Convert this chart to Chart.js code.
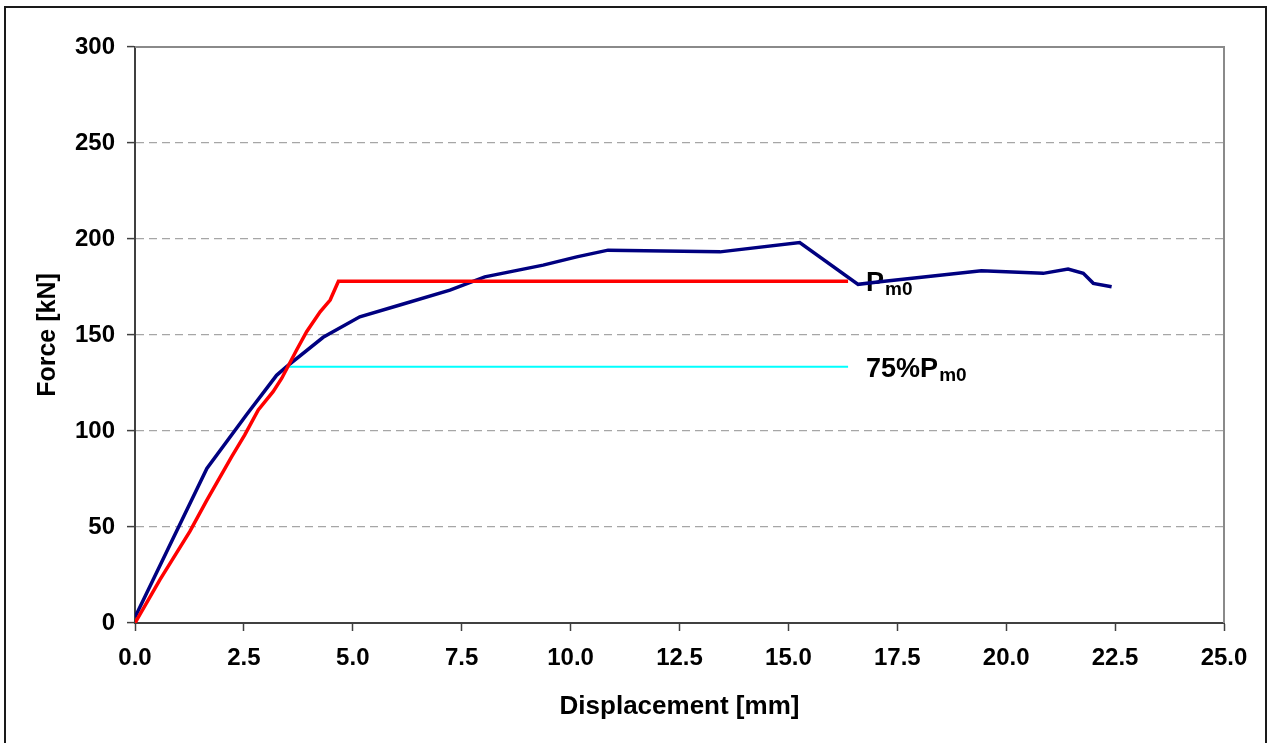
<!DOCTYPE html>
<html>
<head>
<meta charset="utf-8">
<title>Force - Displacement</title>
<script src="https://cdn.jsdelivr.net/npm/chart.js@4/dist/chart.umd.min.js"></script>
<style>
  html, body { margin: 0; padding: 0; background: #ffffff; }
  #wrap { width: 1273px; height: 743px; position: relative; }
</style>
</head>
<body>
<div id="wrap"><canvas id="chart" width="1273" height="743"></canvas></div>
<script>
// Measured load-displacement curve
const dispMeasured  = [0, 1.65, 2.56, 3.25, 3.48, 4.32, 5.16, 6.08, 7.23, 8.03, 9.37, 10.14, 10.86, 13.43, 15.26, 16.6, 17.1, 19.43, 20.85, 21.42, 21.77, 22.0, 22.42];
const forceMeasured = [3, 80.5, 108.5, 129, 133.5, 148.8, 159.5, 165.6, 173.4, 180.3, 186.4, 190.7, 194.2, 193.3, 198.2, 176.4, 177.7, 183.5, 182.1, 184.3, 182.1, 176.9, 175.1];

// Idealised (bilinear) curve
const dispIdeal  = [0, 0.57, 1.26, 1.65, 2.22, 2.52, 2.83, 3.17, 3.37, 3.71, 3.94, 4.25, 4.48, 4.67, 16.37];
const forceIdeal = [0, 22.5, 47.7, 64, 86.7, 98, 111, 120.5, 127.5, 142.2, 151.7, 162.1, 168.2, 178, 178];

// 75 % of the plateau load
const PM0 = 178;
const disp75  = [3.48, 16.37];
const force75 = [0.75 * PM0, 0.75 * PM0];

// Axis ticks
const xTicks = [0, 2.5, 5, 7.5, 10, 12.5, 15, 17.5, 20, 22.5, 25];
const yTicks = [0, 50, 100, 150, 200, 250, 300];

const FONT = "'Liberation Sans', Arial, Helvetica, sans-serif";

function toPoints(xs, ys) { return xs.map((x, i) => ({ x: x, y: ys[i] })); }

// Outer frame and plot-area border (top / right)
const framePlugin = {
  id: 'frame',
  beforeDraw(chart) {
    const ctx = chart.ctx;
    ctx.save();
    ctx.fillStyle = '#ffffff';
    ctx.fillRect(0, 0, chart.width, chart.height);
    ctx.strokeStyle = '#1a1a1a';
    ctx.lineWidth = 2;
    ctx.strokeRect(5, 7, 1261, 760);
    ctx.restore();
  },
  afterDraw(chart) {
    const a = chart.chartArea, ctx = chart.ctx;
    ctx.save();
    ctx.strokeStyle = '#8a8a8a';
    ctx.lineWidth = 2;
    ctx.beginPath();
    ctx.moveTo(a.left, a.top);
    ctx.lineTo(a.right, a.top);
    ctx.lineTo(a.right, a.bottom);
    ctx.stroke();
    ctx.restore();
  }
};

// Text labels "Pm0" and "75%Pm0" with subscripts
const labelPlugin = {
  id: 'pmLabels',
  beforeDatasetsDraw(chart) {
    const ctx = chart.ctx;
    const xs = chart.scales.x, ys = chart.scales.y;
    const x0 = xs.getPixelForValue(dispIdeal[dispIdeal.length - 1]) + 18;
    const drawSub = (main, sub, x, baseline) => {
      ctx.font = 'bold 27px ' + FONT;
      ctx.fillText(main, x, baseline);
      const w = ctx.measureText(main).width;
      ctx.font = 'bold 19px ' + FONT;
      ctx.fillText(sub, x + w + 1, baseline + 4);
    };
    ctx.save();
    ctx.fillStyle = '#000000';
    ctx.textBaseline = 'alphabetic';
    ctx.textAlign = 'left';
    drawSub('P', 'm0', x0, ys.getPixelForValue(PM0) + 9.5);
    drawSub('75%P', 'm0', x0, ys.getPixelForValue(force75[0]) + 10);
    ctx.restore();
  }
};

new Chart(document.getElementById('chart'), {
  type: 'scatter',
  data: {
    datasets: [
      {
        label: 'Ideal',
        data: toPoints(dispIdeal, forceIdeal),
        showLine: true,
        borderColor: '#ff0000',
        borderWidth: 3.5,
        pointRadius: 0,
        tension: 0
      },
      {
        label: '75%Pm0',
        data: toPoints(disp75, force75),
        showLine: true,
        borderColor: '#00ffff',
        borderWidth: 2,
        pointRadius: 0,
        tension: 0
      },
      {
        label: 'Measured',
        data: toPoints(dispMeasured, forceMeasured),
        showLine: true,
        borderColor: '#000080',
        borderWidth: 3.5,
        pointRadius: 0,
        tension: 0
      }
    ]
  },
  options: {
    responsive: false,
    animation: false,
    devicePixelRatio: 1,
    layout: { padding: { top: 47, right: 49, left: 0, bottom: 0 } },
    plugins: {
      legend: { display: false },
      tooltip: { enabled: false }
    },
    scales: {
      x: {
        type: 'linear',
        min: xTicks[0],
        max: xTicks[xTicks.length - 1],
        afterFit(scale) { scale.height = 120; },
        afterBuildTicks(scale) { scale.ticks = xTicks.map(v => ({ value: v })); },
        ticks: {
          color: '#000000',
          font: { family: FONT, size: 24, weight: 'bold' },
          padding: 13,
          maxRotation: 0,
          autoSkip: false,
          callback: v => Number(v).toFixed(1)
        },
        grid: {
          drawOnChartArea: false,
          drawTicks: true,
          tickLength: 8,
          tickColor: '#404040',
          tickWidth: 1.5
        },
        border: { display: true, color: '#404040', width: 2 },
        title: {
          display: true,
          text: 'Displacement [mm]',
          color: '#000000',
          font: { family: FONT, size: 26, weight: 'bold' },
          padding: { top: 0, bottom: 21 }
        }
      },
      y: {
        type: 'linear',
        min: yTicks[0],
        max: yTicks[yTicks.length - 1],
        afterFit(scale) { scale.width = 135; },
        afterBuildTicks(scale) { scale.ticks = yTicks.map(v => ({ value: v })); },
        ticks: {
          color: '#000000',
          font: { family: FONT, size: 24, weight: 'bold' },
          padding: 12,
          autoSkip: false,
          callback: v => String(v)
        },
        grid: {
          drawOnChartArea: true,
          drawTicks: true,
          tickLength: 8,
          lineWidth: 1.2,
          color: ctx => (ctx.tick && (ctx.tick.value === 0 || ctx.tick.value === 300)) ? 'rgba(0,0,0,0)' : '#a6a6a6',
          tickColor: '#404040',
          tickWidth: 1.5
        },
        border: { display: true, color: '#404040', width: 2, dash: [8, 5] },
        title: {
          display: true,
          text: 'Force [kN]',
          color: '#000000',
          font: { family: FONT, size: 25, weight: 'bold' },
          padding: { top: 33, bottom: 0 }
        }
      }
    }
  },
  plugins: [framePlugin, labelPlugin]
});
</script>
</body>
</html>
